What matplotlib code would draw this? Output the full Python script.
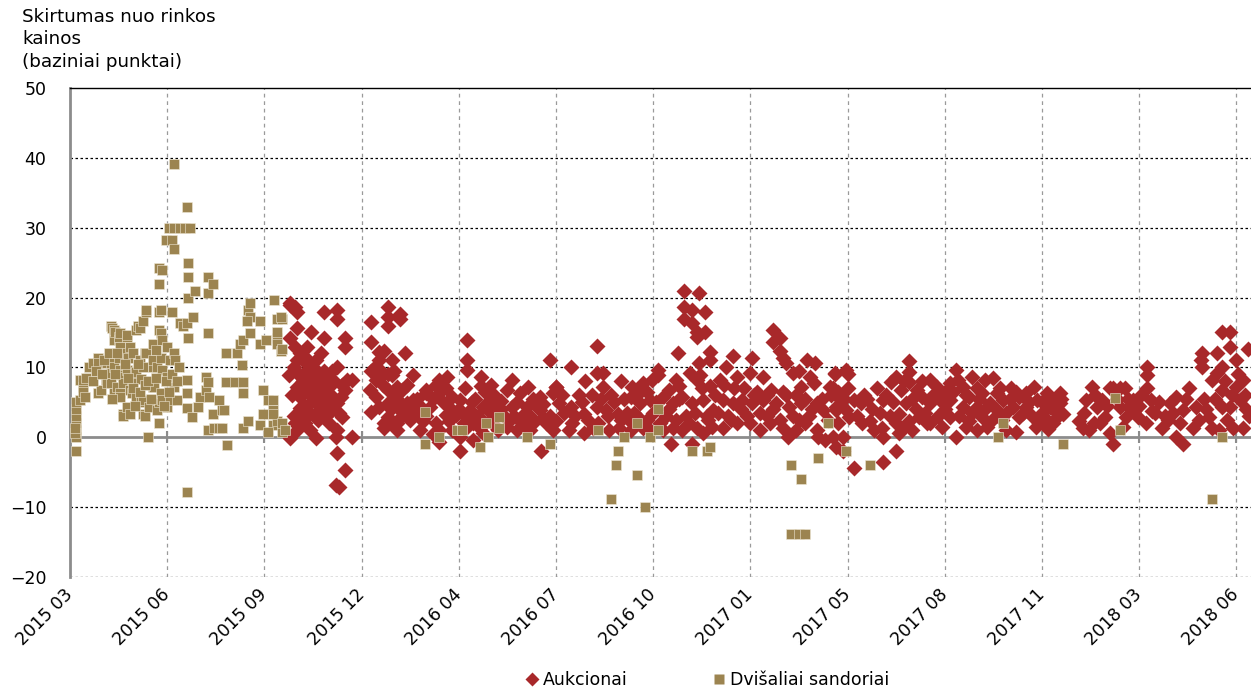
"""Skirtumas nuo rinkos kainos: aukcionai vs dvisaliai sandoriai (scatter)."""
import matplotlib.pyplot as plt
from matplotlib.lines import Line2D

# x = observation number on the category axis (60 observations between labels)
tick_labels = ["2015 03", "2015 06", "2015 09", "2015 12", "2016 04", "2016 07",
               "2016 10", "2017 01", "2017 05", "2017 08", "2017 11", "2018 03",
               "2018 06"]
tick_step = 60
n_obs = 729

# Aukcionai (observation, bp)
auc_points = [
    # 2015 09 - 2015 12
    (136, 18.9), (140, 17.9), (136, 19.2), (139, 18.6), (140, 15.6), (149, 15.0),
    (157, 17.9), (165, 18.2), (165, 17.0), (170, 14.2), (170, 12.9), (157, 14.2),
    (136, 14.2), (139, 12.9), (142, 12.0), (146, 12.9), (140, 11.0), (152, 11.0),
    (144, 11.0), (165, 10.0), (135, 8.9), (146, 9.6), (150, 8.6), (154, 7.7),
    (140, 7.2), (146, 6.7), (156, 6.7), (160, 7.2), (142, 5.7), (150, 5.7),
    (152, 4.9), (159, 5.7), (167, 5.7), (165, 4.9), (162, 3.9), (142, 4.2),
    (143, 3.1), (148, 1.0), (152, -0.1), (140, 1.0), (136, -0.1), (164, 0.0),
    (165, 1.0), (165, -2.3), (170, -4.7), (170, 6.7), (171, 8.2), (159, 4.2),
    (168, 2.9), (174, 8.2), (174, 0.0), (164, -6.9), (166, -7.1), (138, 10.0),
    (144, 8.0), (148, 7.0), (150, 10.0), (154, 9.0), (156, 5.0), (158, 8.5),
    (148, 3.5), (153, 2.5), (160, 2.0), (145, 2.0), (138, 3.0), (155, 12.0),
    (162, 9.5), (168, 7.5), (137, 6.0), (141, 9.0), (143, 7.0), (147, 11.0),
    (149, 5.0), (151, 7.5), (153, 6.0), (155, 4.0), (157, 9.5), (158, 3.0),
    (161, 6.0), (163, 8.0), (166, 3.5), (145, 4.5), (139, 2.0),
    # 2015 12 - 2016 04
    (186, 16.5), (196, 18.6), (196, 17.2), (196, 16.0), (204, 17.7), (204, 17.0),
    (186, 13.6), (191, 12.2), (194, 12.4), (191, 11.0), (199, 11.0), (207, 12.0),
    (190, 8.4), (199, 8.9), (212, 8.9), (185, 6.7), (189, 5.7), (196, 6.7),
    (202, 7.2), (205, 6.7), (186, 3.6), (191, 4.3), (196, 2.9), (202, 4.3),
    (208, 4.9), (212, 5.3), (194, 1.3), (202, 1.0), (199, 2.0), (220, 6.7),
    (189, 8.2), (194, 2.0), (202, 2.0), (197, 5.0), (205, 3.0), (210, 2.5),
    (200, 9.5), (193, 7.5), (188, 10.0), (192, 9.5), (198, 4.0), (204, 5.0),
    (208, 7.5), (214, 5.5), (210, 4.0), (186, 9.5), (196, 9.0), (200, 6.0),
    # 2016 04 - 2016 07
    (245, 13.9), (245, 11.0), (245, 9.6), (254, 8.6), (254, 7.4), (228, 8.2),
    (233, 8.6), (273, 8.2), (283, 7.2), (296, 11.0), (300, 7.2), (220, 6.4),
    (228, 6.3), (241, 5.3), (262, 6.0), (270, 6.7), (278, 6.3), (290, 5.7),
    (298, 6.3), (214, 3.4), (222, 4.3), (234, 4.3), (247, 3.9), (255, 4.3),
    (263, 4.3), (273, 4.3), (282, 4.3), (290, 3.9), (218, 2.4), (226, 2.0),
    (234, 2.4), (243, 2.0), (249, 2.0), (253, 1.4), (259, 2.4), (271, 2.4),
    (278, 2.4), (286, 2.0), (294, 2.0), (228, 1.0), (241, 0.0), (249, -0.4),
    (255, 0.6), (241, -2.0), (228, -0.7), (291, -2.0), (264, 1.0), (268, 3.0),
    (276, 1.0), (284, 1.0), (238, 3.2), (258, 5.0), (286, 5.5), (266, 5.2),
    (250, 5.5), (230, 5.0), (216, 1.0), (224, 0.5), (236, 1.0), (245, 1.5),
    (280, 3.3), (292, 2.8), (216, 4.5), (220, 3.0), (224, 5.5), (232, 3.2),
    (236, 5.8), (240, 4.0), (244, 3.0), (248, 5.0), (252, 3.0), (256, 2.0),
    (260, 3.5), (262, 1.8), (266, 4.0), (270, 1.5), (274, 3.0), (276, 5.0),
    (280, 1.8), (284, 3.0), (288, 4.5), (292, 4.8), (296, 3.0), (298, 1.0),
    (232, 7.0), (256, 6.5), (226, 7.5), (244, 7.0), (260, 7.5),
    # 2016 07 - 2017 05
    (379, 21.0), (388, 20.6), (379, 18.6), (384, 18.2), (392, 17.9), (379, 17.0),
    (384, 16.3), (387, 15.0), (392, 15.0), (387, 14.3), (325, 13.0), (375, 12.0),
    (395, 12.2), (395, 11.0), (388, 10.6), (383, 9.2), (409, 11.6), (309, 10.0),
    (325, 9.2), (329, 9.2), (329, 7.2), (363, 9.6), (405, 10.0), (421, 11.3),
    (434, 15.3), (438, 14.2), (434, 13.6), (438, 12.4), (440, 11.4), (442, 10.6),
    (460, 10.6), (472, 9.2), (479, 9.6), (446, 9.2), (300, 7.2), (347, 7.2),
    (354, 7.7), (359, 8.2), (374, 8.2), (387, 8.2), (412, 8.6), (420, 9.2),
    (428, 8.6), (457, 8.6), (459, 7.7), (469, 7.2), (433, 6.7), (451, 7.2),
    (302, 4.9), (309, 4.3), (317, 3.4), (325, 4.3), (331, 3.9), (338, 3.4),
    (346, 5.7), (352, 4.9), (358, 5.3), (366, 5.7), (372, 4.9), (378, 5.7),
    (384, 4.9), (391, 5.3), (397, 3.9), (403, 5.3), (409, 4.9), (415, 5.3),
    (421, 4.9), (428, 5.3), (436, 4.9), (444, 4.3), (451, 4.9), (461, 4.9),
    (465, 3.9), (473, 4.3), (479, 3.9), (300, 2.4), (310, 2.0), (317, 0.6),
    (323, 1.4), (333, 1.0), (339, 1.4), (347, 2.0), (354, 1.4), (364, 2.0),
    (372, 1.4), (378, 1.0), (387, 1.4), (391, 0.6), (403, 1.4), (412, 2.0),
    (420, 2.0), (426, 1.0), (432, 2.0), (440, 1.4), (443, 0.0), (448, 1.0),
    (454, 2.0), (462, 0.0), (466, -0.4), (473, -1.4), (477, -1.9), (371, -0.9),
    (384, -0.9), (461, 1.0), (363, 8.9), (370, 6.7), (376, 7.4), (389, 8.9),
    (395, 7.4), (398, 6.0), (401, 8.2), (356, 6.5), (368, 3.0), (380, 3.0),
    (394, 2.5), (406, 3.0), (416, 7.0), (424, 6.5), (430, 3.0), (440, 6.5),
    (448, 6.0), (456, 3.0), (410, 7.0), (344, 3.5), (334, 6.0), (314, 6.0),
    (350, 3.0), (360, 3.5), (340, 8.0), (318, 8.0), (305, 3.5), (455, 11.0),
    (450, 9.5), (304, 6.0), (308, 1.0), (312, 3.0), (316, 5.0), (320, 2.5),
    (322, 6.0), (326, 2.0), (328, 5.5), (332, 3.0), (336, 5.0), (340, 2.5),
    (342, 5.5), (346, 1.0), (348, 3.5), (352, 6.5), (356, 2.5), (358, 1.0),
    (362, 5.0), (366, 1.0), (370, 4.0), (374, 2.5), (376, 5.5), (382, 2.0),
    (386, 3.5), (390, 7.0), (393, 3.0), (396, 1.5), (400, 3.5), (404, 7.5),
    (408, 2.5), (414, 4.0), (418, 3.0), (422, 6.0), (426, 3.5), (430, 6.0),
    (434, 4.0), (438, 2.5), (442, 6.0), (446, 3.0), (450, 2.5), (454, 5.5),
    (458, 4.0), (464, 5.5), (468, 2.5), (470, 6.0), (474, 6.5), (478, 5.5),
    # 2017 05 - 2017 11
    (472, 9.0), (480, 9.0), (480, 7.0), (471, 7.0), (484, 5.3), (488, 4.9),
    (476, 5.3), (473, 3.9), (481, 2.9), (477, 0.0), (471, 0.0), (489, 2.0),
    (494, 2.4), (501, 1.4), (502, 0.0), (510, -1.9), (502, -3.6), (484, -4.4),
    (498, 7.0), (502, 5.3), (507, 7.9), (510, 8.6), (513, 6.7), (518, 10.9),
    (518, 9.3), (518, 7.9), (523, 6.7), (516, 4.9), (512, 3.4), (514, 1.4),
    (518, 2.4), (512, 0.6), (526, 5.7), (531, 8.2), (531, 4.9), (535, 7.2),
    (537, 5.3), (531, 2.0), (524, 2.9), (520, 1.0), (543, 7.7), (547, 9.6),
    (548, 8.2), (543, 5.3), (543, 2.9), (547, 0.0), (551, 7.2), (551, 4.3),
    (557, 8.6), (555, 5.7), (555, 2.4), (560, 4.3), (565, 8.2), (563, 6.3),
    (563, 2.9), (560, 1.0), (568, 4.9), (572, 3.9), (572, 6.3), (576, 5.3),
    (578, 1.0), (581, 7.0), (582, 4.3), (586, 2.9), (586, 5.7), (590, 6.3),
    (590, 4.3), (597, 5.3), (598, 2.0), (603, 6.3), (605, 4.3), (607, 2.0),
    (611, 6.3), (611, 4.9), (613, 3.4), (609, 2.9), (490, 6.0), (495, 4.0),
    (506, 3.0), (528, 3.5), (538, 1.5), (553, 1.5), (566, 1.5), (575, 2.5),
    (584, 0.8), (594, 3.0), (600, 3.5), (606, 5.5), (595, 7.2), (570, 8.5),
    (540, 6.5), (560, 7.0), (474, 2.0), (486, 3.0), (492, 5.5), (496, 1.0),
    (500, 3.5), (504, 6.0), (508, 5.0), (510, 2.0), (515, 8.0), (520, 5.5),
    (522, 4.0), (526, 8.0), (529, 2.0), (533, 6.0), (536, 3.0), (540, 4.0),
    (545, 6.5), (549, 3.0), (553, 6.0), (557, 3.5), (561, 5.5), (565, 4.0),
    (569, 2.5), (574, 7.0), (578, 3.5), (580, 5.5), (584, 6.5), (588, 3.5),
    (592, 5.0), (596, 1.5), (600, 5.0), (602, 2.8), (608, 3.8), (612, 5.5),
    (604, 1.2),
    # 2017 12 - 2018 06
    (623, 2.4), (625, 1.4), (627, 5.3), (631, 7.2), (634, 4.3), (637, 5.3),
    (639, 2.9), (642, 7.0), (644, -0.9), (642, 0.6), (644, 7.0), (648, 7.0),
    (651, 7.0), (648, 4.3), (652, 2.9), (654, 4.3), (656, 5.3), (659, 2.9),
    (665, 10.0), (665, 8.9), (665, 7.0), (667, 5.3), (664, 2.0), (674, 1.4),
    (679, 4.9), (683, 0.0), (687, -0.9), (683, 5.7), (691, 7.0), (687, 3.9),
    (695, 4.3), (693, 1.4), (703, 2.9), (705, 1.4), (709, 1.0), (699, 12.0),
    (698, 11.0), (699, 10.0), (708, 12.0), (711, 15.0), (716, 15.0),
    (716, 12.9), (705, 8.2), (708, 9.2), (711, 10.0), (720, 11.0), (724, 8.2),
    (711, 6.7), (720, 7.2), (711, 4.3), (716, 4.3), (722, 5.3), (718, 1.4),
    (724, 1.4), (727, 12.7), (670, 3.5), (676, 3.0), (700, 5.5), (714, 2.5),
    (726, 4.0), (660, 4.5), (632, 2.0), (626, 3.5), (629, 1.0), (633, 6.0),
    (636, 2.0), (640, 4.5), (646, 5.5), (650, 1.5), (653, 5.5), (657, 3.8),
    (661, 6.0), (668, 3.8), (672, 5.0), (678, 2.5), (681, 3.5), (685, 2.0),
    (689, 5.5), (697, 2.5), (701, 4.0), (707, 5.5), (713, 8.0), (717, 6.0),
    (721, 9.0), (725, 6.0), (728, 3.0),
]

# Dvisaliai sandoriai (observation, bp)
bil_points = [
    (4, -1.9), (4, 0.0), (4, 1.0), (4, 2.0), (4, 3.0), (4, 4.0), (4, 5.0),
    (3, 0.6), (3, 1.4), (6, 5.3), (6, 8.2), (8, 7.2), (8, 6.5), (8, 8.2),
    (9, 5.7), (12, 10.0), (14, 10.6), (17, 11.3), (17, 6.4), (17, 10.6),
    (19, 6.7), (22, 8.2), (23, 10.6), (23, 7.7), (25, 10.6), (25, 9.2),
    (25, 7.7), (25, 16.0), (26, 15.7), (27, 10.0), (27, 6.3), (27, 13.9),
    (27, 15.3), (28, 15.0), (29, 7.2), (30, 13.9), (30, 11.4), (30, 14.3),
    (31, 9.6), (31, 6.3), (31, 5.7), (31, 14.9), (31, 12.9), (32, 8.9),
    (33, 8.6), (33, 7.7), (33, 3.4), (33, 3.1), (35, 9.6), (35, 4.3),
    (35, 14.3), (35, 12.0), (35, 14.6), (36, 11.4), (37, 6.7), (37, 3.4),
    (37, 12.9), (38, 8.2), (38, 6.3), (39, 12.0), (40, 9.2), (41, 9.3),
    (41, 5.7), (41, 15.3), (42, 16.0), (43, 11.0), (43, 15.7), (44, 8.4),
    (44, 5.0), (45, 10.0), (45, 5.3), (45, 3.4), (45, 16.7), (46, 12.0),
    (46, 3.1), (47, 17.9), (47, 12.0), (47, 18.2), (48, 0.0), (49, 4.3),
    (51, 10.0), (51, 11.0), (51, 7.2), (51, 13.4), (52, 7.2), (54, 10.0),
    (54, 3.9), (55, 2.0), (55, 5.0), (55, 15.3), (55, 17.9), (55, 22.0),
    (55, 24.2), (56, 11.4), (56, 6.3), (56, 14.9), (56, 18.2), (57, 9.6),
    (57, 5.3), (57, 23.9), (57, 13.9), (59, 28.2), (60, 8.6), (60, 4.3),
    (60, 12.9), (61, 30.0), (62, 5.3), (62, 11.0), (63, 17.9), (63, 28.2),
    (64, 7.2), (64, 12.0), (64, 39.1), (64, 27.0), (64, 30.0), (65, 11.0),
    (66, 5.3), (68, 30.0), (68, 16.3), (70, 16.0), (71, 30.0), (72, 8.2),
    (72, 6.3), (72, 4.2), (72, -7.9), (72, 16.3), (72, 32.9), (73, 14.2),
    (73, 20.0), (73, 22.9), (73, 25.0), (74, 30.0), (75, 2.9), (76, 17.2),
    (77, 21.0), (79, 4.3), (80, 5.7), (84, 6.7), (84, 8.6), (85, 1.0),
    (85, 14.9), (85, 20.7), (85, 7.9), (85, 23.0), (86, 5.7), (88, 3.4),
    (88, 22.0), (89, 1.3), (92, 1.3), (92, 5.3), (94, 3.9), (94, 1.3),
    (95, 3.9), (96, 12.0), (96, 7.9), (97, -1.1), (102, 7.9), (103, 12.0),
    (105, 13.4), (106, 10.3), (107, 7.9), (107, 6.3), (107, 13.9), (107, 1.4),
    (110, 2.4), (110, 18.2), (111, 14.9), (111, 19.2), (111, 17.2), (109, 16.7),
    (117, 16.7), (117, 13.4), (119, 6.7), (122, 5.3), (119, 3.4), (117, 1.7),
    (125, 3.9), (125, 1.7), (122, 0.7), (128, 2.4), (131, 0.7), (128, 14.2),
    (126, 19.6), (128, 13.4), (130, 12.4), (121, 13.9), (128, 17.0),
    (131, 17.0), (130, 17.2), (128, 15.0), (131, 12.6), (125, 5.3), (125, 3.4),
    (131, 2.0), (133, 1.0), (10, 8.5), (14, 8.0), (16, 9.5), (20, 9.0),
    (21, 11.0), (24, 12.0), (26, 5.5), (28, 9.0), (29, 12.0), (34, 10.5),
    (36, 8.5), (39, 7.0), (40, 4.5), (42, 10.5), (43, 6.5), (46, 7.5),
    (48, 8.0), (50, 5.5), (53, 8.5), (53, 12.5), (58, 4.5), (59, 8.0),
    (61, 6.5), (63, 9.0), (66, 8.0), (67, 10.0),
    (219, 3.6), (219, -0.9), (228, 0.1), (239, 1.1), (242, 1.1), (253, -1.4),
    (257, 2.0), (258, 0.0), (265, 2.9), (265, 1.4), (282, 0.0), (296, -0.9),
    (326, 1.0), (334, -8.9), (337, -3.9), (338, -1.9), (342, 0.0), (350, 2.0),
    (350, -5.4), (355, -10.0), (358, 0.0), (363, 4.1), (363, 1.1), (384, -1.9),
    (393, -1.9), (395, -1.4), (445, -13.9), (450, -13.9), (454, -13.9),
    (445, -3.9), (451, -5.9), (462, -2.9), (468, 2.0), (479, -1.9), (494, -3.9),
    (573, 0.0), (576, 2.0), (613, -0.9), (645, 5.6), (648, 1.1), (705, -8.9),
    (711, 0.0),
]

auc_x, auc_y = zip(*auc_points)
bil_x, bil_y = zip(*bil_points)

red = "#A8282A"
tan = "#9C8450"

fig = plt.figure(figsize=(12.51, 6.91), dpi=100)
ax = fig.add_axes([70 / 1251, 114 / 691, 1181 / 1251, 489 / 691])

ax.plot(auc_x, auc_y, ls="none", marker="D", ms=7.8, color=red, mec="none",
        zorder=3)
ax.plot(bil_x, bil_y, ls="none", marker="s", ms=7.4, mfc=tan, mec="#efe8d6",
        mew=0.4, zorder=4)

ax.set_xlim(0, n_obs)
ax.set_ylim(-20, 50)
ticks = list(range(0, tick_step * len(tick_labels), tick_step))
ax.set_xticks(ticks, tick_labels, rotation=45, ha="right", va="center",
              rotation_mode="anchor")
ax.set_yticks(range(-20, 51, 10))
ax.tick_params(axis="x", length=0, pad=11, labelsize=12.5)
ax.tick_params(axis="y", length=0, pad=17, labelsize=12.5)

for y in range(-20, 50, 10):
    if y != 0:
        ax.axhline(y, color="black", lw=0.9, ls=(0, (2, 2)), zorder=1)
for x in ticks[1:]:
    ax.axvline(x, color="#9a9a9a", lw=0.9, ls=(0, (3, 3)), zorder=1)
ax.axhline(0, color="#8c8c8c", lw=2, zorder=2)
ax.plot(ticks, [0] * len(ticks), ls="none", marker="|", ms=8, mew=1.5,
        color="#8c8c8c", zorder=2)

for side in ("right", "bottom"):
    ax.spines[side].set_visible(False)
ax.spines["left"].set_color("#8c8c8c")
ax.spines["left"].set_linewidth(2)
ax.spines["top"].set_color("black")
ax.spines["top"].set_linewidth(1)

fig.text(22 / 1251, 1 - 8 / 691, "Skirtumas nuo rinkos\nkainos\n(baziniai punktai)",
         ha="left", va="top", fontsize=13.2, linespacing=1.32)

handles = [
    Line2D([], [], ls="none", marker="D", ms=7, color=red, mec="none"),
    Line2D([], [], ls="none", marker="s", ms=7, color=tan, mec="none"),
]
fig.legend(handles, ["Aukcionai", "Dvišaliai sandoriai"], loc="center",
           bbox_to_anchor=(0.566, 0.016), ncol=2, frameon=False, fontsize=12.5,
           handlelength=0.6, handletextpad=0.3, columnspacing=5.0)

fig.savefig("out.png", dpi=100)
